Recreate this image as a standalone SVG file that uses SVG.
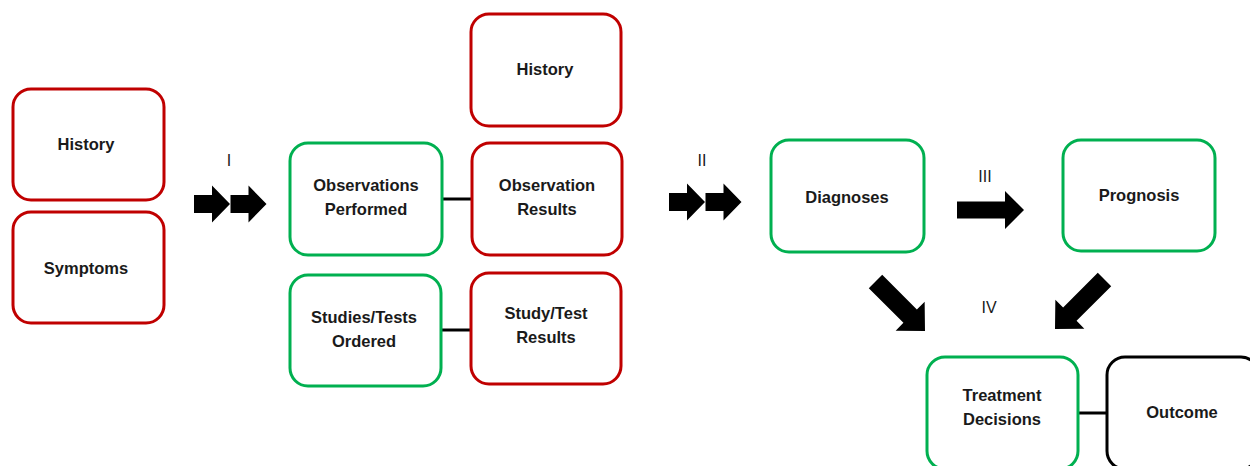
<svg xmlns="http://www.w3.org/2000/svg" width="1250" height="466" viewBox="0 0 1250 466">
<defs>
<style>
.box{fill:#fff;stroke-width:3}
.red{stroke:#C00000}
.green{stroke:#00B050}
.black{stroke:#000}
.t{font-family:"Liberation Sans",Arial,sans-serif;font-weight:bold;font-size:16.5px;fill:#1a1a1a;text-anchor:middle}
.lab{font-family:"Liberation Sans",Arial,sans-serif;font-size:16px;fill:#1a1a1a;text-anchor:middle}
.link{stroke:#000;stroke-width:3;fill:none}
.arr{fill:#000}
</style>
<path id="a36" d="M0,-9 L18,-9 L18,-18.5 L36,0 L18,18.5 L18,9 L0,9 Z"/>
<path id="a67" d="M0,-8.5 L48,-8.5 L48,-19 L67,0 L48,19 L48,8.5 L0,8.5 Z"/>
<path id="a70" d="M0,-9.5 L49,-9.5 L49,-20.5 L70,0 L49,20.5 L49,9.5 L0,9.5 Z"/>
</defs>
<rect width="1250" height="466" fill="#fff"/>

<g id="connectors">
<line class="link" x1="442" y1="199" x2="472" y2="199"/>
<line class="link" x1="441" y1="330" x2="471" y2="330"/>
<line class="link" x1="1078" y1="413" x2="1107" y2="413"/>
<use href="#a36" class="arr" transform="translate(194,204)"/>
<use href="#a36" class="arr" transform="translate(230.5,204)"/>
<use href="#a36" class="arr" transform="translate(669,202)"/>
<use href="#a36" class="arr" transform="translate(705.5,202)"/>
<use href="#a67" class="arr" transform="translate(957,210)"/>
<use href="#a70" class="arr" transform="translate(925,331) rotate(45) translate(-70,0)"/>
<use href="#a70" class="arr" transform="translate(1055,329) rotate(135) translate(-70,0)"/>
<text class="lab" x="229" y="166">I</text>
<text class="lab" x="702" y="166">II</text>
<text class="lab" x="985" y="182">III</text>
<text class="lab" x="989" y="313">IV</text>
</g>

<g id="history-left"><rect class="box red" x="13" y="89" width="151" height="111" rx="18"/><text class="t" x="86" y="150">History</text></g>
<g id="symptoms"><rect class="box red" x="13" y="212" width="151" height="111" rx="18"/><text class="t" x="86" y="274">Symptoms</text></g>
<g id="history-top"><rect class="box red" x="471" y="14" width="150" height="112" rx="18"/><text class="t" x="545" y="75">History</text></g>
<g id="obs-performed"><rect class="box green" x="290" y="143" width="152" height="112" rx="18"/><text class="t" x="366" y="191">Observations</text><text class="t" x="366" y="215">Performed</text></g>
<g id="obs-results"><rect class="box red" x="472" y="143" width="150" height="112" rx="18"/><text class="t" x="547" y="191">Observation</text><text class="t" x="547" y="215">Results</text></g>
<g id="studies-ordered"><rect class="box green" x="290" y="275" width="151" height="111" rx="18"/><text class="t" x="364" y="323">Studies/Tests</text><text class="t" x="364" y="347">Ordered</text></g>
<g id="study-results"><rect class="box red" x="471" y="273" width="150" height="111" rx="18"/><text class="t" x="546" y="319">Study/Test</text><text class="t" x="546" y="343">Results</text></g>
<g id="diagnoses"><rect class="box green" x="771" y="140" width="153" height="112" rx="18"/><text class="t" x="847" y="203">Diagnoses</text></g>
<g id="prognosis"><rect class="box green" x="1063" y="140" width="152" height="111" rx="18"/><text class="t" x="1139" y="201">Prognosis</text></g>
<g id="treatment"><rect class="box green" x="927" y="357" width="151" height="112" rx="18"/><text class="t" x="1002" y="401">Treatment</text><text class="t" x="1002" y="425">Decisions</text></g>
<g id="outcome"><rect class="box black" x="1107" y="357" width="152" height="112" rx="18"/><text class="t" x="1182" y="418">Outcome</text></g>
</svg>
